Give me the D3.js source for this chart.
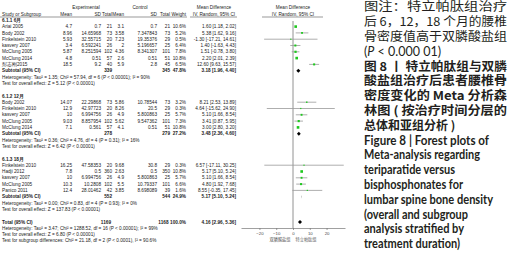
<!DOCTYPE html>
<html>
<head>
<meta charset="utf-8">
<script src="https://cdn.jsdelivr.net/npm/d3@7"></script>
<style>
  body { margin: 0; background: #fff; }
  svg { display: block; }
  .t { font-family: "Liberation Sans", Arial, sans-serif; font-size: 4.7px; fill: #222; }
  .b { font-weight: bold; }
  .axis text { font-family: "Liberation Sans", Arial, sans-serif; font-size: 4.3px; fill: #444; }
  .axis path, .axis line { stroke: #777; stroke-width: 0.7; }
</style>
</head>
<body>
<div id="chart"></div>
<script>
// subgroups
const groupNames = ["6.1.1 6月", "6.1.2 12月", "6.1.3 18月"]

// studies (group index per study)
const studyGroup = [0, 0, 0, 0, 0, 0, 0, 1, 1, 1, 1, 1, 2, 2, 2, 2, 2]
const studyName = ["Ariai 2005", "Body 2002", "Finkelstein 2010", "kasvery 2007", "McClung 2005", "McClung 2014", "彭志刚2015",
  "Body 2002", "Finkelstein 2010", "kasvery 2007", "McClung 2005", "McClung 2014",
  "Finkelstein 2010", "Hadji 2012", "kasvery 2007", "McClung 2005", "Panico 2011"]
const expMean = ["4.7", "8.96", "5.93", "3.4", "5.87", "4.8", "18.5", "14.07", "12.9", "10", "9.03", "7.1", "16.25", "7.8", "10", "10.3", "12.4"]
const expSD = ["0.7", "14.65968", "32.55715", "6.592241", "8.251594", "0.51", "9.2", "22.29868", "42.97723", "6.994756", "8.857954", "0.561", "47.58353", "0.5", "6.994756", "10.2808", "28.01462"]
const expN = [21, 73, 20, 26, 102, 57, 40, 73, 20, 26, 102, 57, 20, 360, 26, 102, 42]
const ctlMean = ["3.1", "3.58", "7.23", "2", "4.36", "2.6", "5.9", "5.86", "8.26", "4.9", "5.62", "4.1", "9.68", "2.63", "4.9", "5.5", "3.85"]
const ctlSD = ["0.7", "7.347843", "19.35376", "5.196657", "8.341307", "0.51", "2.8", "10.78544", "20.5", "5.800863", "9.547362", "0.51", "30.8", "0.5", "5.800863", "10.79337", "8.698089"]
const ctlN = [21, 73, 29, 25, 101, 51, 45, 73, 29, 25, 101, 51, 29, 350, 25, 101, 39]
const weight = [10.6, 5.2, 0.5, 6.4, 7.8, 10.8, 6.5, 3.2, 0.3, 5.7, 7.3, 10.8, 0.3, 10.8, 5.7, 6.6, 1.6]
const md = [1.60, 5.38, -1.30, 1.40, 1.51, 2.20, 12.60, 8.21, 4.64, 5.10, 3.41, 3.00, 6.57, 5.17, 5.10, 4.80, 8.55]
const mdLow = [1.18, 1.62, -17.21, -1.63, -0.78, 2.01, 9.63, 2.53, -15.62, 1.66, 0.87, 2.80, -17.11, 5.10, 1.66, 1.92, -0.35]
const mdHigh = [2.02, 9.16, 14.61, 4.43, 3.80, 2.39, 15.57, 13.89, 24.90, 8.54, 5.95, 3.20, 30.25, 5.24, 8.54, 7.68, 17.45]

// subtotals per group
const subExpN = [339, 278, 552]
const subCtlN = [345, 279, 544]
const subWeight = [47.8, 27.2, 24.9]
const subMd = [3.18, 3.48, 5.17]
const subLow = [1.96, 2.36, 5.10]
const subHigh = [4.40, 4.60, 5.24]
const subHet = [
  "Heterogeneity: Tau² = 1.35; Chi² = 57.94, df = 6 (P < 0.00001); I² = 90%",
  "Heterogeneity: Tau² = 0.36; Chi² = 4.76, df = 4 (P = 0.31); I² = 16%",
  "Heterogeneity: Tau² = 0.00; Chi² = 0.83, df = 4 (P = 0.93); I² = 0%"]
const subZ = [
  "Test for overall effect: Z = 5.12 (P < 0.00001)",
  "Test for overall effect: Z = 6.42 (P < 0.00001)",
  "Test for overall effect: Z = 137.83 (P < 0.00001)"]

// overall
const totExpN = 1169, totCtlN = 1168, totWeight = 100.0
const totMd = 4.16, totLow = 2.96, totHigh = 5.36
const totNotes = [
  "Heterogeneity: Tau² = 3.47; Chi² = 1288.52, df = 16 (P < 0.00001); I² = 99%",
  "Test for overall effect: Z = 6.80 (P < 0.00001)",
  "Test for subgroup differences: Chi² = 21.18, df = 2 (P < 0.0001), I² = 90.6%"]

// axis
const axisTicks = [-20, -10, 0, 10, 20]
const favoursLeft = "双膦酸盐组"
const favoursRight = "特立帕肽组"

// caption
const captionLines = [
  {t: "图注：特立帕肽组治疗", w: 143},
  {t: "后 6，12，18 个月的腰椎", w: 143},
  {t: "骨密度值高于双膦酸盐组", w: 143},
  {t: "P", w: 0, special: true},
  {t: "图 8 丨 特立帕肽组与双膦", w: 143, bold: true},
  {t: "酸盐组治疗后患者腰椎骨", w: 143, bold: true},
  {t: "密度变化的 Meta 分析森", w: 143, bold: true},
  {t: "林图 ( 按治疗时间分层的", w: 143, bold: true},
  {t: "总体和亚组分析 )", w: 0, bold: true},
  {t: "Figure 8 | Forest plots of", w: 125, bold: true, en: true},
  {t: "Meta-analysis regarding", w: 116, bold: true, en: true},
  {t: "teriparatide versus", w: 91, bold: true, en: true},
  {t: "bisphosphonates for", w: 99, bold: true, en: true},
  {t: "lumbar spine bone density", w: 129, bold: true, en: true},
  {t: "(overall and subgroup", w: 104, bold: true, en: true},
  {t: "analysis stratified by", w: 100, bold: true, en: true},
  {t: "treatment duration)", w: 96, bold: true, en: true}]

const W = 511, H = 253

const svg = d3.select("#chart").append("svg")
    .attr("width", W)
    .attr("height", H)

// schalen
const x = d3.scaleLinear().domain([-31, 31]).range([241, 345])
const yRow = d3.scaleLinear().domain([1, 37]).range([14, 240.8])

// kolommen van de tabel
const col = {name: 2, eMean: 72, eSD: 101, eN: 112, cMean: 124, cSD: 157, cN: 170, w: 186, ci: 236}

function txt(xp, yp, s, anchor, bold) {
  return svg.append("text")
      .attr("class", "t" + (bold ? " b" : ""))
      .attr("x", xp)
      .attr("y", yp + 1.6)
      .attr("text-anchor", anchor || "start")
      .text(s)
}

function ciText(m, l, h) {
  return m.toFixed(2) + " [" + l.toFixed(2) + ", " + h.toFixed(2) + "]"
}

// headers
const h1 = 7.5, h2 = yRow(1)
txt(86, h1, "Experimental", "middle")
txt(140, h1, "Control", "middle")
txt(214, h1, "Mean Difference", "middle")
txt(x(0), h1, "Mean Difference", "middle")
txt(col.name, h2, "Study or Subgroup", "start", false)
txt(col.eMean, h2, "Mean", "end")
txt(col.eSD, h2, "SD", "end")
txt(col.eN, h2, "Total", "end")
txt(col.cMean, h2, "Mean", "end")
txt(col.cSD, h2, "SD", "end")
txt(col.cN, h2, "Total", "end")
txt(col.w, h2, "Weight", "end")
txt(214, h2, "IV, Random, 95% CI", "middle")
txt(x(0), h2, "IV, Random, 95% CI", "middle")

svg.selectAll(".hdrline")
    .data([[0, 187], [190, 237], [262, 323]])
    .enter().append("line")
    .attr("x1", d => d[0]).attr("x2", d => d[1])
    .attr("y1", 17).attr("y2", 17)
    .attr("stroke", "#333").attr("stroke-width", 0.5)

// nulllijn
svg.append("line")
    .attr("x1", x(0)).attr("x2", x(0))
    .attr("y1", 21).attr("y2", 228)
    .attr("stroke", "#777").attr("stroke-width", 0.8)

function drawDiamond(m, l, h, yy) {
  const pts = [[x(l), yy], [x(m), yy - 2], [x(h), yy], [x(m), yy + 2]]
  svg.append("polygon")
      .attr("points", pts.map(p => p.join(",")).join(" "))
      .attr("fill", "#000")
}

// rijen opbouwen
let row = 2
groupNames.forEach(function(g, gi) {
  txt(col.name, yRow(row), g, "start", true)
  row++
  studyGroup.forEach(function(sg, i) {
    if (sg !== gi) return
    const yy = yRow(row)
    txt(col.name, yy, studyName[i])
    txt(col.eMean, yy, expMean[i], "end")
    txt(col.eSD, yy, expSD[i], "end")
    txt(col.eN, yy, expN[i], "end")
    txt(col.cMean, yy, ctlMean[i], "end")
    txt(col.cSD, yy, ctlSD[i], "end")
    txt(col.cN, yy, ctlN[i], "end")
    txt(col.w, yy, weight[i].toFixed(1) + "%", "end")
    txt(col.ci, yy, ciText(md[i], mdLow[i], mdHigh[i]), "end")
    // betrouwbaarheidsinterval
    svg.append("line")
        .attr("x1", x(mdLow[i])).attr("x2", x(mdHigh[i]))
        .attr("y1", yy).attr("y2", yy)
        .attr("stroke", "#999").attr("stroke-width", 0.8)
    const s = Math.max(1.2, Math.sqrt(weight[i]) * 0.8)
    svg.append("rect")
        .attr("x", x(md[i]) - s / 2).attr("y", yy - s / 2)
        .attr("width", s).attr("height", s)
        .attr("fill", "#1ec81e")
    row++
  })
  const ys = yRow(row)
  txt(col.name, ys, "Subtotal (95% CI)", "start", true)
  txt(col.eN, ys, subExpN[gi], "end", true)
  txt(col.cN, ys, subCtlN[gi], "end", true)
  txt(col.w, ys, subWeight[gi].toFixed(1) + "%", "end", true)
  txt(col.ci, ys, ciText(subMd[gi], subLow[gi], subHigh[gi]), "end", true)
  drawDiamond(subMd[gi], subLow[gi], subHigh[gi], ys)
  row++
  txt(col.name, yRow(row), subHet[gi])
  row++
  txt(col.name, yRow(row), subZ[gi])
  row += 2
})

// totaal
const yt = yRow(row)
txt(col.name, yt, "Total (95% CI)", "start", true)
txt(col.eN - 1, yt, totExpN, "end", true)
txt(col.cN - 1.5, yt, totCtlN, "end", true)
txt(col.w, yt, totWeight.toFixed(1) + "%", "end", true)
txt(col.ci, yt, ciText(totMd, totLow, totHigh), "end", true)
drawDiamond(totMd, totLow, totHigh, yt)
totNotes.forEach(function(n, i) {
  txt(col.name, yRow(row + 1 + i), n)
})

// x-as
svg.append("g")
    .attr("class", "axis")
    .attr("transform", "translate(0,228)")
    .call(d3.axisBottom(x).tickValues(axisTicks).tickSize(2).tickSizeOuter(0).tickPadding(1.5))

svg.append("text")
    .attr("x", x(-1.5)).attr("y", 240.5)
    .attr("text-anchor", "end")
    .style("font-family", "'Noto Sans CJK SC', sans-serif")
    .style("font-size", "4.2px").style("fill", "#555")
    .text(favoursLeft)
svg.append("text")
    .attr("x", x(1.5)).attr("y", 240.5)
    .attr("text-anchor", "start")
    .style("font-family", "'Noto Sans CJK SC', sans-serif")
    .style("font-size", "4.2px").style("fill", "#555")
    .text(favoursRight)

// bijschrift
const cap = svg.append("g")
captionLines.forEach(function(c, i) {
  const yy = 7 + 14.8 * i + 4.4
  const t = cap.append("text")
      .attr("x", 364).attr("y", yy)
      .style("font-family", c.en ? "Lato, 'Open Sans', sans-serif" : "'Noto Sans CJK SC', sans-serif")
      .style("font-size", c.en ? "12.5px" : "12px")
      .style("font-weight", c.bold ? "bold" : "normal")
      .style("fill", "#231f20")
  if (c.special) {
    t.append("tspan").text("(")
    t.append("tspan").style("font-style", "italic").text("P")
    t.append("tspan").text(" < 0.000 01)")
    t.style("font-family", "Lato, 'Open Sans', sans-serif").style("font-size", "12.5px")
  } else {
    t.text(c.t)
  }
  if (c.w) t.attr("textLength", c.w).attr("lengthAdjust", "spacingAndGlyphs")
})
</script>
</body>
</html>
